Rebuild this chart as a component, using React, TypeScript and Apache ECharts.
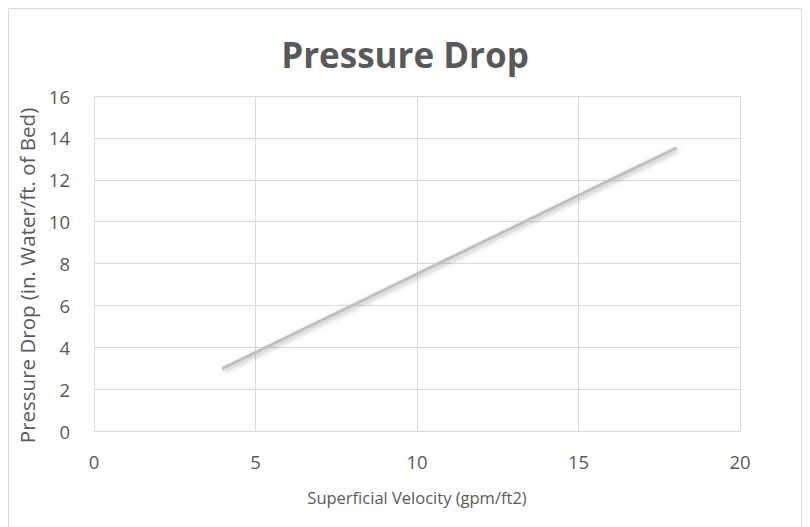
import React, { useEffect, useRef } from "react";
import * as echarts from "echarts";

const titleText = "Pressure Drop";
const xAxisName = "Superficial Velocity (gpm/ft2)";
const yAxisName = "Pressure Drop (in. Water/ft. of Bed)";
const velocity = [4, 18];
const pressureDrop = [3, 13.5];

const FONT = "'Open Sans', sans-serif";
const TEXT_COLOR = "#595959";
const GRID_COLOR = "#d9d9d9";

export default function App() {
  const ref = useRef<HTMLDivElement>(null);
  useEffect(() => {
    if (!ref.current) return;
    const chart = echarts.init(ref.current, null, { renderer: "svg" });
    chart.setOption({
      animation: false,
      backgroundColor: "#ffffff",
      title: {
        text: titleText,
        left: "center",
        top: 32,
        textStyle: { fontFamily: FONT, fontSize: 35, fontWeight: "bold", color: TEXT_COLOR },
      },
      graphic: [
        {
          type: "rect",
          shape: { x: 8.5, y: 8.5, width: 793, height: 540 },
          style: { fill: "none", stroke: GRID_COLOR, lineWidth: 1 },
          silent: true,
        },
      ],
      grid: { left: 94, right: 70, top: 96, bottom: 96 },
      xAxis: {
        type: "value",
        min: 0,
        max: 20,
        interval: 5,
        name: xAxisName,
        nameLocation: "middle",
        nameGap: 58,
        nameTextStyle: { fontFamily: FONT, fontSize: 16.5, color: TEXT_COLOR },
        axisLine: { show: true, lineStyle: { color: GRID_COLOR, width: 1 } },
        axisTick: { show: false },
        axisLabel: { fontFamily: FONT, fontSize: 18.5, color: TEXT_COLOR, margin: 21 },
        splitLine: { show: true, lineStyle: { color: GRID_COLOR, width: 1 } },
      },
      yAxis: {
        type: "value",
        min: 0,
        max: 16,
        interval: 2,
        name: yAxisName,
        nameLocation: "middle",
        nameGap: 54,
        nameTextStyle: {
          fontFamily: FONT,
          fontSize: 20.5,
          color: TEXT_COLOR,
          padding: [0, 24, 0, 0],
        },
        axisLine: { show: false },
        axisTick: { show: false },
        axisLabel: { fontFamily: FONT, fontSize: 18.5, color: TEXT_COLOR, margin: 24 },
        splitLine: { show: true, lineStyle: { color: GRID_COLOR, width: 1 } },
      },
      series: [
        {
          type: "line",
          data: velocity.map((v, i) => [v, pressureDrop[i]]),
          showSymbol: false,
          symbol: "none",
          lineStyle: {
            color: "#bfbfbf",
            width: 3,
            cap: "round",
            shadowColor: "rgba(0,0,0,0.3)",
            shadowBlur: 5,
            shadowOffsetY: 2,
            shadowOffsetX: 1,
          },
        },
      ],
    });
    return () => chart.dispose();
  }, []);
  return (
    <div
      ref={ref}
      style={{ position: "absolute", left: 0, top: 0, width: 810, height: 527 }}
    />
  );
}
